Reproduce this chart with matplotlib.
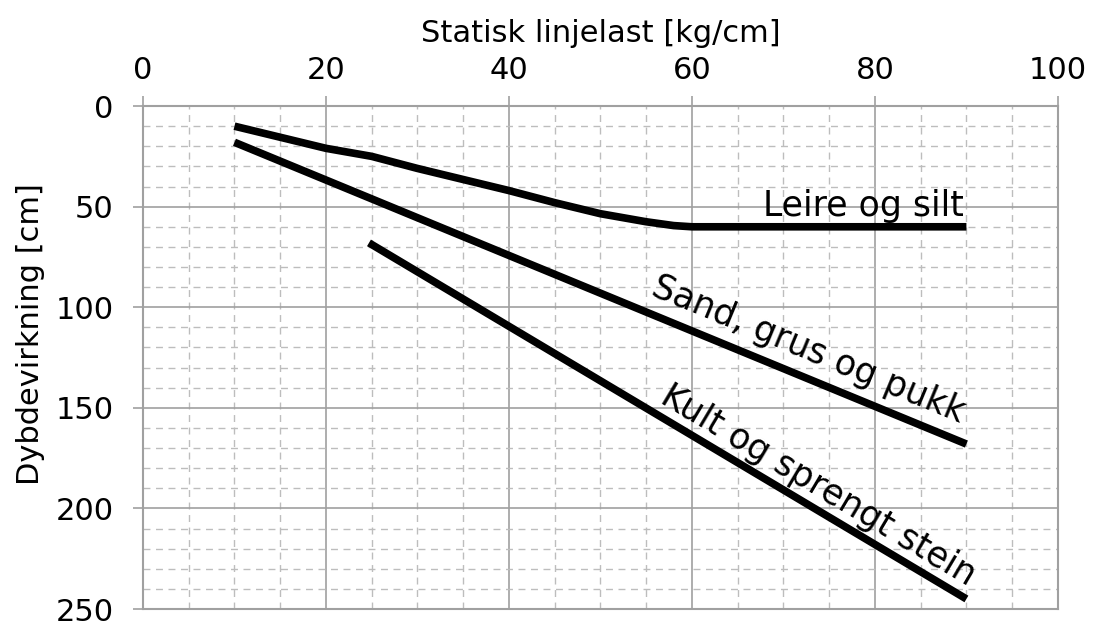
import matplotlib.pyplot as plt
from matplotlib.ticker import MultipleLocator

# data
leire_x = [10, 20, 25, 30, 35, 40, 45, 50, 55, 58, 60, 90]
leire_y = [10, 21, 25, 31, 36.5, 42, 48, 53.5, 57.5, 59.4, 60, 60]
sand_x = [10, 90]
sand_y = [18, 168]
kult_x = [24.7, 90]
kult_y = [68, 245]

labels = ["Leire og silt", "Sand, grus og pukk", "Kult og sprengt stein"]

plt.rcParams['font.family'] = ['DejaVu Sans']
GRID = '#a0a0a0'


def main():
    fig = plt.figure(figsize=(10.94, 6.24), dpi=100)
    ax = fig.add_axes([0.1307, 0.024, 0.8363, 0.806])

    ax.set_xlim(0, 100)
    ax.set_ylim(250, 0)

    ax.xaxis.set_major_locator(MultipleLocator(20))
    ax.xaxis.set_minor_locator(MultipleLocator(5))
    ax.yaxis.set_major_locator(MultipleLocator(50))
    ax.yaxis.set_minor_locator(MultipleLocator(10))

    ax.grid(which='major', color=GRID, lw=1.2, ls='-')
    ax.grid(which='minor', color='#bdbdbd', lw=1.0, ls=(0, (5, 4)))
    ax.set_axisbelow(True)

    for s in ax.spines.values():
        s.set_color(GRID)
        s.set_linewidth(1.5)

    ax.xaxis.tick_top()
    ax.xaxis.set_label_position('top')
    ax.tick_params(which='major', length=7, width=1.2, color=GRID,
                   labelsize=22)
    ax.tick_params(which='minor', length=0)
    ax.tick_params(axis='x', pad=8)
    ax.tick_params(axis='y', pad=14)
    for t in ax.get_yticklabels():
        t.set_verticalalignment('center_baseline')

    ax.set_xlabel("Statisk linjelast [kg/cm]", fontsize=22, labelpad=10)
    ax.set_ylabel("Dybdevirkning [cm]", fontsize=22)
    ax.yaxis.set_label_coords(-0.107, 0.547)

    kw = dict(color='black', lw=5.5, solid_capstyle='butt', solid_joinstyle='round')
    ax.plot(leire_x, leire_y, **kw)
    ax.plot(sand_x, sand_y, **kw)
    ax.plot(kult_x, kult_y, **kw)

    ax.text(78.7, 49.5, labels[0], fontsize=25, ha='center', va='center')
    ax.text(72.7, 121, labels[1], fontsize=25, ha='center', va='center',
            rotation=-22.5, rotation_mode='anchor')
    ax.text(73.8, 188.5, labels[2], fontsize=25, ha='center', va='center',
            rotation=-30.8, rotation_mode='anchor')

    fig.savefig('out.png', dpi=100)


if __name__ == '__main__':
    main()
